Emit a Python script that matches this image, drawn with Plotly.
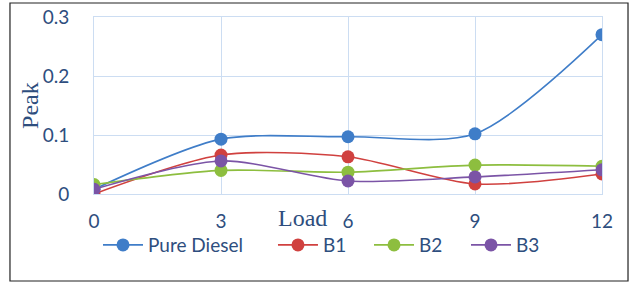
import plotly.graph_objects as go

load = [0, 3, 6, 9, 12]
pure_diesel = [0.008, 0.093, 0.097, 0.102, 0.270]
b1 = [0.000, 0.066, 0.063, 0.017, 0.034]
b2 = [0.016, 0.040, 0.037, 0.049, 0.047]
b3 = [0.008, 0.056, 0.022, 0.029, 0.041]

names = ["Pure Diesel", "B1", "B2", "B3"]
colors = ["#3F7DC8", "#D0413F", "#8DBE3F", "#7B54A6"]
series = [pure_diesel, b1, b2, b3]
legend_ids = ["legend", "legend2", "legend3", "legend4"]
legend_x = [0.1553, 0.4326, 0.5848, 0.7385]

fig = go.Figure()
for n, c, s, lid in zip(names, colors, series, legend_ids):
    fig.add_trace(go.Scatter(
        x=load, y=s, name=n, mode="lines+markers", legend=lid,
        line=dict(color=c, width=1.6, shape="spline", smoothing=0.8),
        marker=dict(color=c, size=13),
    ))

tick_font = dict(family="Lato, Carlito, sans-serif", size=19, color="#2E4E7E")
legend_font = dict(family="Lato, Carlito, sans-serif", size=19, color="#2E4E7E")
grid = "#CCDDF2"

layout_legends = {}
for lid, lx in zip(legend_ids, legend_x):
    layout_legends[lid] = dict(orientation="h", xref="container", yref="container",
                               x=lx, xanchor="left", y=0.131, yanchor="middle",
                               font=legend_font, bgcolor="rgba(0,0,0,0)",
                               itemwidth=40)

fig.update_layout(
    width=631, height=282,
    margin=dict(l=94, r=29, t=17, b=88, autoexpand=False),
    paper_bgcolor="white", plot_bgcolor="white",
    showlegend=True,
    xaxis=dict(range=[0, 12], tickvals=load, ticktext=[str(v) for v in load],
               showgrid=True, gridcolor=grid, gridwidth=1, zeroline=False,
               showline=True, linecolor=grid, mirror=True, ticks="",
               tickfont=tick_font, ticklabelstandoff=10),
    yaxis=dict(range=[0, 0.3], tickvals=[0, 0.1, 0.2, 0.3],
               ticktext=["0", "0.1", "0.2", "0.3"],
               showgrid=True, gridcolor=grid, gridwidth=1, zeroline=False,
               showline=True, linecolor=grid, mirror=True, ticks="",
               tickfont=tick_font, ticklabelstandoff=20),
    annotations=[
        dict(text="Peak", xref="paper", yref="paper", x=-0.126, y=0.503,
             xanchor="center", yanchor="middle",
             textangle=-90, showarrow=False,
             font=dict(family="Liberation Serif, serif", size=24, color="#2E4E7E")),
        dict(text="Load", xref="paper", yref="paper", x=0.41, y=-0.135,
             xanchor="center", yanchor="middle", showarrow=False,
             font=dict(family="Liberation Serif, serif", size=24, color="#2E4E7E")),
    ],
    shapes=[
        dict(type="rect", xref="paper", yref="paper",
             x0=-0.1654, x1=1.0512, y0=-0.4915, y1=1.079,
             line=dict(color="#222222", width=1.2), layer="below"),
    ],
    **layout_legends,
)

fig.write_html("out.html", config={"displayModeBar": False},
               post_script="document.body.style.margin='0';")
